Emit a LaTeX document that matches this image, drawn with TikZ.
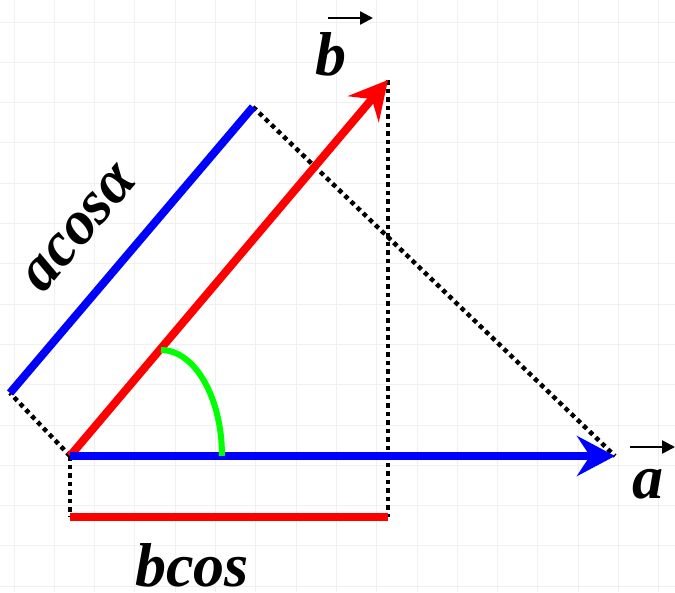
\documentclass[tikz,border=0pt]{standalone}
\usepackage{fontspec}
\setmainfont{Liberation Serif}
\usetikzlibrary{arrows.meta}
\begin{document}
\begin{tikzpicture}[x=1pt,y=-1pt,
  vecline/.style={line width=8pt},
  bigtip/.style={-{Stealth[length=38pt,width=40pt,inset=13pt]}},
  dotline/.style={line width=4.5pt,dash pattern=on 4.5pt off 4pt},
  lbl/.style={font=\fontsize{62}{62}\selectfont\bfseries\itshape,inner sep=0pt,anchor=base},
  smallarrow/.style={line width=2.5pt,-{Triangle[length=13pt,width=13pt]}}]
\useasboundingbox (0,0) rectangle (675,592);
\fill[white] (0,0) rectangle (675,592);
\foreach \i in {0,...,16} {
  \draw[black!6,line width=1pt] (14+40.3*\i,0) -- (14+40.3*\i,592);
}
\foreach \j in {0,...,14} {
  \draw[black!6,line width=1pt] (0,22+40.3*\j) -- (675,22+40.3*\j);
}
\coordinate (O) at (70,456);
\coordinate (A) at (615,456);
\coordinate (B) at (388,80);
\coordinate (P1) at (10,393);
\coordinate (P2) at (253,107);
\coordinate (Q) at (388,517);
\coordinate (R) at (70,517);
% dotted projections
\draw[dotline] (O) -- (P1);
\draw[dotline] (P2) -- (A);
\draw[dotline] (B) -- (Q);
\draw[dotline] (O) -- (R);
% projection segments
\draw[vecline,blue] (P1) -- (P2);
\draw[vecline,red] (R) -- (Q);
% vectors
\draw[vecline,red,bigtip] (O) -- (B);
\draw[vecline,blue,bigtip] (O) -- (A);
% angle arc
\draw[line width=6pt,color={rgb,255:red,0;green,255;blue,0}] (161,350) arc[start angle=-90,end angle=0,x radius=61,y radius=106];
% labels
\node[lbl] (lb) at (331,75) {b};
\node[lbl] (la) at (648,498) {a};
\node[lbl] (lbcos) at (192,586) {bcos};
\node[lbl,rotate=50] (lacos) at (91,238) {acosα};
\coordinate (bs) at (328,18);
\coordinate (be) at (373,18);
\coordinate (as) at (630,447);
\coordinate (ae) at (675,447);
\draw[smallarrow] (bs) -- (be);
\draw[smallarrow] (as) -- (ae);
\end{tikzpicture}
\end{document}
